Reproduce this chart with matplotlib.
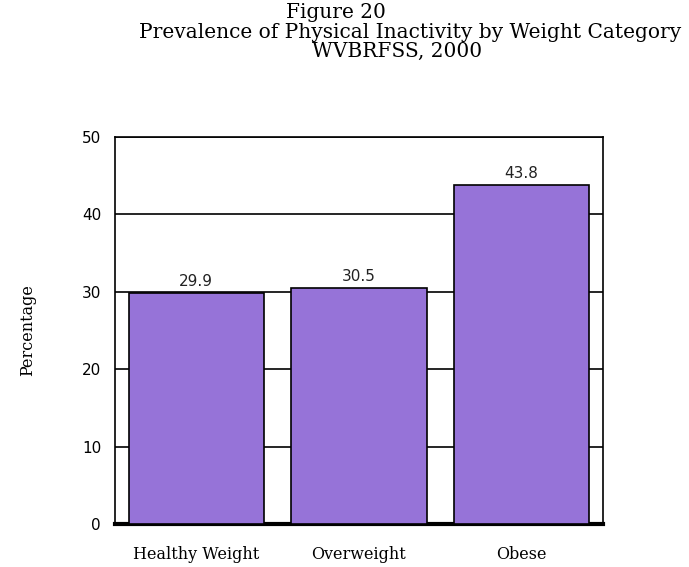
import matplotlib
matplotlib.use('Agg')
from matplotlib import pyplot as plt

categories = ['Healthy Weight', 'Overweight', 'Obese']
values = [29.9, 30.5, 43.8]
yticks = [0, 10, 20, 30, 40, 50]

serif = 'DejaVu Serif'
sans = 'DejaVu Sans'

fig = plt.figure(figsize=(6.89, 5.67), dpi=100)
ax = fig.add_axes([115 / 689, 1 - 524 / 567, 488 / 689, 387 / 567])

x = range(len(categories))
bars = ax.bar(x, values, width=0.83, color='#9673d8', edgecolor='black',
              linewidth=1.2, zorder=3)

for b, v in zip(bars, values):
    ax.text(b.get_x() + b.get_width() / 2, v + 0.5, f'{v:.1f}',
            ha='center', va='bottom', fontsize=11, family=sans, color='#222222')

ax.set_xlim(-0.5, 2.5)
ax.set_ylim(0, 50)
ax.set_yticks(yticks)
ax.set_yticklabels([str(t) for t in yticks], family=sans, fontsize=11)
ax.set_xticks(list(x))
ax.set_xticklabels(categories, family=serif, fontsize=11.5)
ax.tick_params(axis='both', length=0, pad=10)
ax.tick_params(axis='x', pad=16)

ax.yaxis.grid(True, color='black', linewidth=1.2, zorder=0)
ax.set_axisbelow(True)
for s in ax.spines.values():
    s.set_linewidth(1.2)
ax.spines['bottom'].set_linewidth(3)

fig.text(28 / 689, 1 - 330 / 567, 'Percentage', rotation=90, ha='center',
         va='center', family=serif, fontsize=11.5)

# заголовок, три строки
fig.text(336 / 689, 1 - 12 / 567, 'Figure 20', ha='center', va='center',
         family=serif, fontsize=14.5)
fig.text(410 / 689, 1 - 32 / 567, 'Prevalence of Physical Inactivity by Weight Category',
         ha='center', va='center', family=serif, fontsize=14.5)
fig.text(397 / 689, 1 - 51 / 567, 'WVBRFSS, 2000', ha='center', va='center',
         family=serif, fontsize=14.5)

fig.savefig('out.png', dpi=100)
